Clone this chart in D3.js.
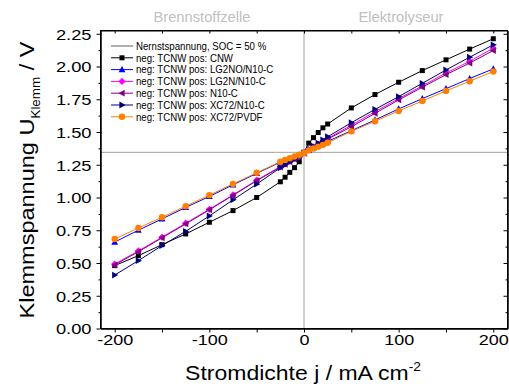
<!DOCTYPE html>
<html><head><meta charset="utf-8">
<script src="https://cdn.jsdelivr.net/npm/d3@7"></script>
<style>body{margin:0;background:#fff}svg{display:block;font-family:"Liberation Sans",Arial,sans-serif}</style>
</head><body><svg id="c" width="509" height="387"></svg>
<script>
const current = [-200,-175,-150,-125,-100,-75,-50,-25,-20,-15,-10,-5,0,5,10,15,20,25,50,75,100,125,150,175,200];
const seriesNames = ["neg: TCNW pos: CNW","neg: TCNW pos: LG2NO/N10-C","neg: TCNW pos: LG2N/N10-C","neg: TCNW pos: N10-C","neg: TCNW pos: XC72/N10-C","neg: TCNW pos: XC72/PVDF"];
const cnw      = [0.48,0.556,0.64,0.722,0.811,0.90,1.00,1.12,1.155,1.192,1.228,1.273,1.345,1.415,1.457,1.496,1.532,1.561,1.684,1.786,1.88,1.969,2.051,2.133,2.212];
const lg2no    = [0.66,0.75,0.837,0.924,1.008,1.097,1.184,1.27,1.284,1.297,1.31,1.323,1.34,1.362,1.38,1.395,1.41,1.429,1.51,1.592,1.676,1.755,1.831,1.908,1.982];
const lg2n     = [0.492,0.592,0.697,0.804,0.91,1.02,1.132,1.236,1.257,1.277,1.297,1.318,1.34,1.365,1.386,1.407,1.428,1.452,1.552,1.655,1.755,1.852,1.95,2.04,2.14];
const n10c     = [0.485,0.586,0.692,0.798,0.906,1.016,1.128,1.232,1.253,1.273,1.294,1.315,1.338,1.362,1.383,1.403,1.424,1.446,1.54,1.642,1.745,1.842,1.938,2.026,2.122];
const xc72n10c = [0.408,0.518,0.633,0.742,0.859,0.982,1.102,1.227,1.25,1.272,1.294,1.316,1.34,1.368,1.392,1.415,1.44,1.464,1.571,1.673,1.77,1.872,1.974,2.071,2.166];
const xc72pvdf = [0.683,0.767,0.849,0.934,1.018,1.104,1.189,1.273,1.287,1.30,1.313,1.326,1.34,1.36,1.374,1.388,1.402,1.418,1.505,1.582,1.661,1.737,1.814,1.888,1.962];
const nernst = 1.345;
const nernstLabel = "Nernstspannung, SOC = 50 %";
const xTicks = [-200,-100,0,100,200];
const xMinor = [-150,-50,50,150];
const yTicks = [0,0.25,0.5,0.75,1.0,1.25,1.5,1.75,2.0,2.25];
const yMinor = [0.125,0.375,0.625,0.875,1.125,1.375,1.625,1.875,2.125];
const regionLabels = ["Brennstoffzelle","Elektrolyseur"];

const values = [cnw, lg2no, lg2n, n10c, xc72n10c, xc72pvdf];
const colors = ["#000000","#0000ff","#ff00ff","#800080","#000080","#ff8000"];
const shapes = ["square","triup","diamond","trileft","triright","circle"];

const svg = d3.select("#c");
const L=100.5, R=507.5, T=30.5, B=328.5;
const x = d3.scaleLinear().domain([-215,215]).range([L,R]);
const y = d3.scaleLinear().domain([0,2.275]).range([B,T]);

function stretch(sel, f){ sel.each(function(){ const w=this.getComputedTextLength(); this.setAttribute("textLength", w*f); this.setAttribute("lengthAdjust","spacingAndGlyphs"); }); }

// region labels
svg.selectAll("text.reg").data(regionLabels).join("text")
  .attr("x",(d,i)=> i===0 ? 202 : 401).attr("y",22).attr("text-anchor","middle")
  .attr("font-size",14).attr("fill","#c0c0c0").text(d=>d).call(stretch,1.05);

// crosshair
svg.append("line").attr("x1",L).attr("x2",R).attr("y1",y(nernst)).attr("y2",y(nernst)).attr("stroke","#a0a0a0").attr("stroke-width",1);
svg.append("line").attr("x1",x(0)).attr("x2",x(0)).attr("y1",T).attr("y2",B).attr("stroke","#a0a0a0").attr("stroke-width",1);

// axes
const fmtX = d => String(d);
const gx = svg.append("g").attr("transform",`translate(0,${B})`)
  .call(d3.axisBottom(x).tickValues(xTicks).tickSize(4).tickSizeOuter(0).tickFormat(fmtX));
gx.append("g").call(d3.axisBottom(x).tickValues(xMinor).tickSize(4).tickSizeOuter(0).tickFormat(""));
const gy = svg.append("g").attr("transform",`translate(${L},0)`)
  .call(d3.axisLeft(y).tickValues(yTicks).tickSize(4).tickSizeOuter(0).tickFormat(d3.format(".2f")));
gy.append("g").call(d3.axisLeft(y).tickValues(yMinor).tickSize(2).tickSizeOuter(0).tickFormat(""));
const gt = svg.append("g").attr("transform",`translate(0,${T})`)
  .call(d3.axisBottom(x).tickValues(xTicks.concat(xMinor)).tickSize(3).tickSizeOuter(0).tickFormat(""));
const gr = svg.append("g").attr("transform",`translate(${R},0)`)
  .call(d3.axisLeft(y).tickValues(yTicks).tickSize(4).tickSizeOuter(0).tickFormat(""));
gr.append("g").call(d3.axisLeft(y).tickValues(yMinor).tickSize(2).tickSizeOuter(0).tickFormat(""));
svg.selectAll(".domain").attr("stroke","#000");
svg.selectAll(".tick line").attr("stroke","#000");
gx.selectAll(".tick text").attr("font-size",15).attr("font-family","Liberation Sans, Arial").attr("fill","#000").attr("dy",null).attr("y",16);
gy.selectAll(".tick text").attr("font-size",15).attr("font-family","Liberation Sans, Arial").attr("fill","#000").attr("x",-9).attr("dy","0.36em");
gx.selectAll(".tick text").call(stretch,1.2);
gy.selectAll(".tick text").call(stretch,1.22);
svg.append("rect").attr("x",L).attr("y",T).attr("width",R-L).attr("height",B-T).attr("fill","none").attr("stroke","#000");

// titles
const xt = svg.append("text").attr("transform","translate(303,380) scale(1.15,1)").attr("text-anchor","middle").attr("font-size",20).attr("fill","#000");
xt.append("tspan").text("Stromdichte j / mA cm");
xt.append("tspan").attr("font-size",12).attr("dy",-9).text("-2");
const yt = svg.append("text").attr("transform","translate(34,180) rotate(-90) scale(1.12,1)").attr("text-anchor","middle").attr("font-size",21).attr("fill","#000");
yt.append("tspan").text("Klemmspannung U");
yt.append("tspan").attr("font-size",12).attr("dy",6).text("Klemm");
yt.append("tspan").attr("dy",-6).text(" / V");

// marker
function marker(g, shape, color, cx, cy){
  if(shape==="square") g.append("rect").attr("x",cx-2.5).attr("y",cy-2.5).attr("width",5).attr("height",5).attr("fill",color);
  else if(shape==="circle") g.append("circle").attr("cx",cx).attr("cy",cy).attr("r",3.2).attr("fill",color);
  else if(shape==="diamond") g.append("path").attr("d",`M${cx},${cy-3.6}L${cx+3.6},${cy}L${cx},${cy+3.6}L${cx-3.6},${cy}Z`).attr("fill",color);
  else {
    let p;
    if(shape==="triup") p=`M${cx},${cy-3.6}L${cx+3.4},${cy+2.6}L${cx-3.4},${cy+2.6}Z`;
    else if(shape==="trileft") p=`M${cx-3.6},${cy}L${cx+2.6},${cy-3.4}L${cx+2.6},${cy+3.4}Z`;
    else p=`M${cx+3.6},${cy}L${cx-2.6},${cy-3.4}L${cx-2.6},${cy+3.4}Z`;
    g.append("path").attr("d",p).attr("fill",color);
  }
}

// series
const line = d3.line().x(d=>x(d[0])).y(d=>y(d[1]));
values.forEach((vals,i)=>{
  const pts = current.map((c,k)=>[c,vals[k]]);
  const g = svg.append("g");
  g.append("path").attr("d",line(pts)).attr("fill","none").attr("stroke",colors[i]).attr("stroke-width",1);
  pts.forEach(p=>marker(g,shapes[i],colors[i],x(p[0]),y(p[1])));
});

// legend
const lg = svg.append("g");
const rows = [{name:nernstLabel,color:"#606060",shape:null}].concat(seriesNames.map((n,i)=>({name:n,color:colors[i],shape:shapes[i]})));
rows.forEach((r,i)=>{
  const yy = 46 + i*11.8;
  lg.append("line").attr("x1",111).attr("x2",133).attr("y1",yy).attr("y2",yy).attr("stroke",r.color).attr("stroke-width",1);
  if(r.shape) marker(lg,r.shape,r.color,122,yy);
  lg.append("text").attr("x",136).attr("y",yy).attr("dy","0.36em").attr("font-size",10.5).attr("fill","#000").text(r.name).call(stretch,0.92);
});
</script></body></html>
